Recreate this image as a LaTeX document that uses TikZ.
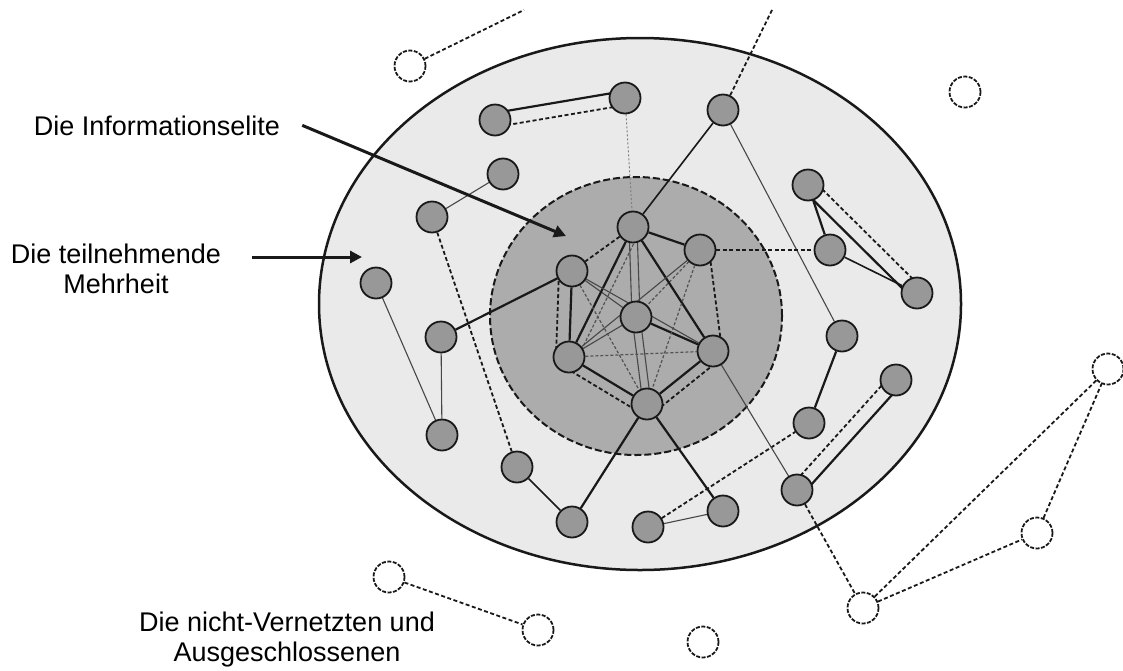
\documentclass[tikz,border=0pt]{standalone}
\usepackage{fontspec}
\setmainfont{Liberation Sans}
\usetikzlibrary{calc,arrows.meta}
\pgfdeclarelayer{back}
\pgfdeclarelayer{edges}
\pgfsetlayers{back,edges,main}
\definecolor{ellfill}{RGB}{234,234,234}
\definecolor{circfill}{RGB}{172,172,172}
\definecolor{nodefill}{RGB}{152,152,152}
\definecolor{ink}{RGB}{25,25,25}
\newcommand\offln[4]{\draw[#1] ($(#2)!#4!90:(#3)$) -- ($(#3)!#4!-90:(#2)$);}
\begin{document}
\begin{tikzpicture}[x=1pt,y=-1pt,
 pn/.style={circle,minimum size=31pt,inner sep=0pt,fill=nodefill,draw=ink,line width=1.8pt},
 on/.style={circle,minimum size=31pt,inner sep=0pt,fill=white,draw=ink,line width=1.8pt,dash pattern=on 4pt off 1.5pt},
 thk/.style={line width=2.2pt,draw=ink},
 med/.style={line width=1.6pt,draw=ink},
 thn/.style={line width=1.1pt,draw=ink!80},
 dsh/.style={line width=1.8pt,draw=ink,dash pattern=on 4pt off 2.5pt},
 dsht/.style={line width=1.2pt,draw=ink!75,dash pattern=on 3pt off 2pt},
 dotl/.style={line width=1pt,draw=ink!55,dash pattern=on 2pt off 2pt},
 lbl/.style={font=\fontsize{27}{30}\selectfont,align=center,inner sep=0pt},
 arr/.style={line width=3pt,draw=ink,-{Triangle[length=12pt,width=12pt]}}]
\useasboundingbox (0,0) rectangle (1123,670);
\begin{pgfonlayer}{back}
\draw[fill=ellfill,draw=ink,line width=2.5pt] (640,304) ellipse [x radius=321pt,y radius=266pt];
\draw[fill=circfill,draw=ink,line width=2pt,dash pattern=on 7pt off 3pt] (636,316) ellipse [x radius=146pt,y radius=139pt];
\end{pgfonlayer}
% core nodes
\node[pn] (hT) at (633,227) {};
\node[pn] (hUR) at (700,250) {};
\node[pn] (hL) at (572,271) {};
\node[pn] (hC) at (636,317) {};
\node[pn] (hLL) at (569,357) {};
\node[pn] (hR) at (713,351) {};
\node[pn] (hB) at (647,404) {};
% participating nodes
\node[pn] (a1) at (495,120) {};
\node[pn] (a2) at (625,98) {};
\node[pn] (a3) at (723,110) {};
\node[pn] (a4) at (503,174) {};
\node[pn] (a5) at (432,217) {};
\node[pn] (a6) at (376,283) {};
\node[pn] (a7) at (441,337) {};
\node[pn] (a8) at (442,435) {};
\node[pn] (a9) at (517,467) {};
\node[pn] (a10) at (572,522) {};
\node[pn] (b1) at (808,185) {};
\node[pn] (b2) at (830,250) {};
\node[pn] (b3) at (917,293) {};
\node[pn] (b4) at (842,336) {};
\node[pn] (b5) at (896,380) {};
\node[pn] (b6) at (809,423) {};
\node[pn] (b7) at (797,490) {};
\node[pn] (b8) at (723,511) {};
\node[pn] (b9) at (648,527) {};
% excluded nodes
\node[on] (o1) at (410,66) {};
\node[on] (o2) at (965,92) {};
\node[on] (o3) at (1108,369) {};
\node[on] (o4) at (1037,533) {};
\node[on] (o5) at (863,608) {};
\node[on] (o6) at (389,577) {};
\node[on] (o7) at (538,630) {};
\node[on] (o8) at (703,642) {};
\coordinate (e1) at (524,10);
\coordinate (e2) at (773,8);
\begin{pgfonlayer}{edges}
% outer connections
\draw[dsh] (o1) -- (e1);
\draw[dsh] (a3) -- (e2);
\offln{thk}{a1}{a2}{7pt}
\offln{dsh}{a2}{a1}{7pt}
\draw[thn] (a4) -- (a5);
\draw[dsh] (a5) -- (a9);
\draw[thn] (a6) -- (a8);
\draw[thn] (a7) -- (a8);
\draw[thk] (a7) -- (hL);
\draw[med] (a9) -- (a10);
\draw[thk] (a10) -- (hB);
\draw[thk] (hB) -- (b8);
\draw[thn] (b8) -- (b9);
\draw[dsh] (b9) -- (b6);
\draw[thk] (b6) -- (b4);
\offln{dsh}{b7}{b5}{7pt}
\offln{thk}{b5}{b7}{7pt}
\draw[dsh] (b7) -- (o5);
\draw[thn] (hR) -- (b7);
\draw[med] (a3) -- (hT);
\draw[thn] (a3) -- (b4);
\draw[dotl] (a2) -- (hT);
\draw[thk] (b1) -- (b2);
\offln{dsh}{b1}{b3}{7pt}
\offln{thk}{b3}{b1}{7pt}
\draw[med] (b2) -- (b3);
\draw[dsh] (hUR) -- (b2);
\draw[dsh] (o5) -- (o3);
\draw[dsh] (o5) -- (o4);
\draw[dsh] (o4) -- (o3);
\draw[dsh] (o6) -- (o7);
% core mesh
\draw[thk] (hT) -- (hUR);
\offln{dsh}{hUR}{hR}{9pt}
\draw[dsh] (hT) -- (hL);
\draw[thk] (hL) -- (hLL);
\offln{dsh}{hLL}{hL}{13pt}
\draw[thk] (hLL) -- (hB);
\offln{dsh}{hB}{hLL}{11pt}
\draw[thk] (hB) -- (hR);
\offln{dsh}{hR}{hB}{11pt}
\offln{thn}{hT}{hC}{4pt}
\offln{thn}{hC}{hT}{4pt}
\offln{thn}{hC}{hB}{4pt}
\offln{thn}{hB}{hC}{4pt}
\draw[thk] (hC) -- (hR);
\draw[thn] (hL) -- (hC);
\draw[dsht] (hUR) -- (hC);
\draw[thn] (hLL) -- (hC);
\draw[thk] (hT) -- (hLL);
\offln{dsht}{hT}{hLL}{8pt}
\draw[thk] (hT) -- (hR);
\draw[thn] (hUR) -- (hLL);
\draw[dsht] (hUR) -- (hB);
\draw[thn] (hL) -- (hR);
\draw[dsht] (hLL) -- (hR);
\draw[dsht] (hL) -- (hB);
\end{pgfonlayer}
% labels and arrows
\node[lbl,anchor=base] (lab1) at (157,135) {Die Informationselite};
\coordinate (t1) at (566,236);
\draw[arr] ([xshift=22pt]lab1.east) -- (t1);
\node[lbl] (lab2) at (116,269) {Die teilnehmende\\Mehrheit};
\coordinate (s2) at (252,257);
\coordinate (t2) at (362,257);
\draw[arr] (s2) -- (t2);
\node[lbl] (lab3) at (287,640) {Die nicht-Vernetzten und\\Ausgeschlossenen};
\end{tikzpicture}
\end{document}
